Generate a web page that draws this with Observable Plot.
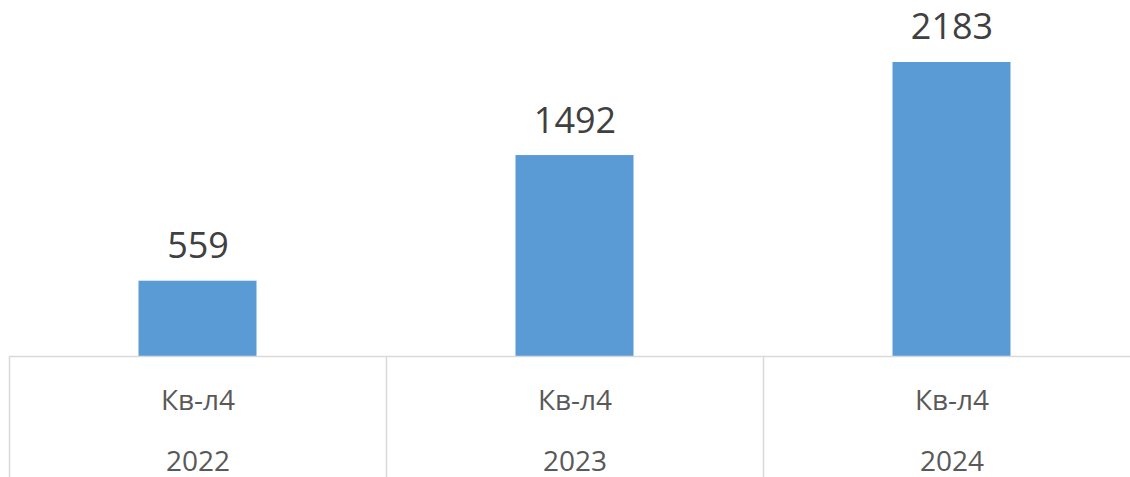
<!DOCTYPE html>
<html>
<head>
<meta charset="utf-8">
<script src="https://cdn.jsdelivr.net/npm/d3@7"></script>
<script src="https://cdn.jsdelivr.net/npm/@observablehq/plot@0.6"></script>
<style>
  html, body { margin: 0; padding: 0; background: #ffffff; }
  #chart svg { display: block; }
</style>
</head>
<body>
<div id="chart"></div>
<script>
const years = ["2022", "2023", "2024"];
const quarters = ["Кв-л4", "Кв-л4", "Кв-л4"];
const values = [559, 1492, 2183];

const data = years.map((y, i) => ({year: y, quarter: quarters[i], value: values[i]}));

const gridColor = "#d9d9d9";

const chart = Plot.plot({
  width: 1130,
  height: 477,
  marginTop: 0,
  marginBottom: 0,
  marginLeft: 9,
  marginRight: 0,
  style: {background: "#ffffff", fontFamily: "'Open Sans', sans-serif"},
  x: {type: "band", domain: years, range: [9, 1140], padding: 0, axis: null},
  y: {domain: [0, 2200], range: [356, 59.7], axis: null},
  marks: [
    Plot.barY(data, {x: "year", y: "value", fill: "#5b9bd5", insetLeft: 129.5, insetRight: 129.5}),
    Plot.ruleY([0], {stroke: gridColor, strokeWidth: 1.5}),
    Plot.ruleX(data, {x: "year", dx: -188.5, y1: 0, y2: 0, insetBottom: -121, stroke: gridColor, strokeWidth: 1.5}),
    Plot.text(data, {x: "year", y: "value", text: d => String(d.value), lineAnchor: "bottom", dy: -23, fontSize: 36, fill: "#404040"}),
    Plot.text(data, {x: "year", text: "quarter", frameAnchor: "bottom", lineAnchor: "bottom", dy: -68, fontSize: 28, fill: "#595959"}),
    Plot.text(data, {x: "year", text: "year", frameAnchor: "bottom", lineAnchor: "bottom", dy: -7, fontSize: 28, fill: "#595959"})
  ]
});
document.getElementById("chart").appendChild(chart);
</script>
</body>
</html>
